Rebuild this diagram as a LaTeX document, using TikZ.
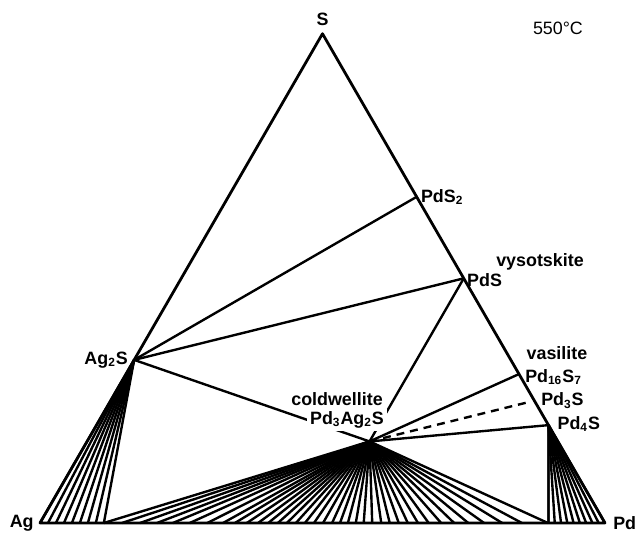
\documentclass[tikz,border=0pt]{standalone}
\usepackage{fontspec}
\setmainfont{Liberation Sans}
\usetikzlibrary{calc}
\usetikzlibrary{positioning}
\tikzset{lbl/.style = {draw=none, inner sep = 1pt, font=\bfseries\fontsize{9}{10}\selectfont}}
\tikzset{lblw/.style = {lbl, fill=white, inner sep = 1.5pt}}
\tikzset{tie/.style = {line width=1.2pt}}

\begin{document}
\begin{tikzpicture}[line join=round]
\useasboundingbox (-0.708,-0.212) rectangle (10.549,9.257);
% corners of the triangle
\coordinate (Ag) at (0, 0);
\coordinate (Pd) at (10, 0);
\coordinate (S) at (5, 8.660);
% phases
\coordinate (Ag2S) at (barycentric cs:Ag=2,S=1);
\coordinate (PdS2) at (barycentric cs:Pd=1,S=2);
\coordinate (PdS) at (barycentric cs:Pd=1,S=1);
\coordinate (Pd16S7) at (barycentric cs:Pd=16,S=7);
\coordinate (Pd3S) at (barycentric cs:Pd=3,S=1);
\coordinate (Pd4S) at (barycentric cs:Pd=4,S=1);
\coordinate (Pd3Ag2S) at (barycentric cs:Pd=3,Ag=2,S=1);
\coordinate (B1) at (1.13, 0);
\coordinate (B3) at (9, 0);

% tie lines
\draw [tie] (Ag2S) to (PdS2);
\draw [tie] (Ag2S) to (PdS);
\draw [tie] (Ag2S) to (Pd3Ag2S);
\draw [tie] (PdS) to (Pd3Ag2S);
\draw [tie] (Pd16S7) to (Pd3Ag2S);
\draw [tie, dash pattern=on 4pt off 3pt, shorten >=2pt] (Pd3Ag2S) to (Pd3S);
\draw [tie] (Pd4S) to (Pd3Ag2S);
\draw [tie] (Pd4S) to (B3);
\foreach \i in {0,...,8} \draw [tie] (Ag2S) -- ($(Ag)!\i/8!(B1)$);
\foreach \i in {0,...,9} \draw [tie] (Pd4S) -- ($(B3)!\i/9!(Pd)$);
\foreach \x [count=\i] in {1.13,1.45,1.77,2.07,2.35,2.65,2.96,3.24,3.45,3.66,3.86,4.04,4.21,4.37,4.53,4.69,4.85,5.01,5.17,5.31,5.45,5.59,5.73,5.88,6.04,6.19,6.35,6.51,6.69,6.88,7.10,7.33,7.58,7.86,8.18,8.53,8.99} {
  \coordinate (m\i) at (\x, 0);
  \draw [tie] (Pd3Ag2S) -- (m\i);
}
\draw [line width=1.4pt] (Ag) -- (S) -- (Pd) -- cycle;

% labels
\node [lbl, above=3pt of S] (lS) {S};
\node [draw=none, font=\fontsize{9}{10}\selectfont] (lT) at (9.168, 8.761) {550°C};
\node [lbl, right=1pt of PdS2] (lPdS2) {PdS\textsubscript{2}};
\node [lbl, anchor=west] (lPdS) at ($(PdS)+(0.02,-0.03)$) {PdS};
\node [lbl] (lvys) at (8.85, 4.62) {vysotskite};
\node [lbl, left=2pt of Ag2S] (lAg2S) {Ag\textsubscript{2}S};
\node [lbl] (lvas) at (9.15, 3.01) {vasilite};
\node [lbl, anchor=west] (lPd16S7) at ($(Pd16S7)+(0.07,-0.05)$) {Pd\textsubscript{16}S\textsubscript{7}};
\node [lbl, anchor=west] (lPd3S) at ($(Pd3S)+(0.08,0)$) {Pd\textsubscript{3}S};
\node [lbl, anchor=west] (lPd4S) at ($(Pd4S)+(0.12,0.02)$) {Pd\textsubscript{4}S};
\node [lblw] (lcold) at (5.257, 2.195) {coldwellite};
\node [lblw] (lPd3Ag2S) at (5.434, 1.823) {Pd\textsubscript{3}Ag\textsubscript{2}S};
\node [lbl, left=2pt of Ag] (lAg) {Ag};
\node [lbl, right=3pt of Pd] (lPd) {Pd};
\end{tikzpicture}
\end{document}
